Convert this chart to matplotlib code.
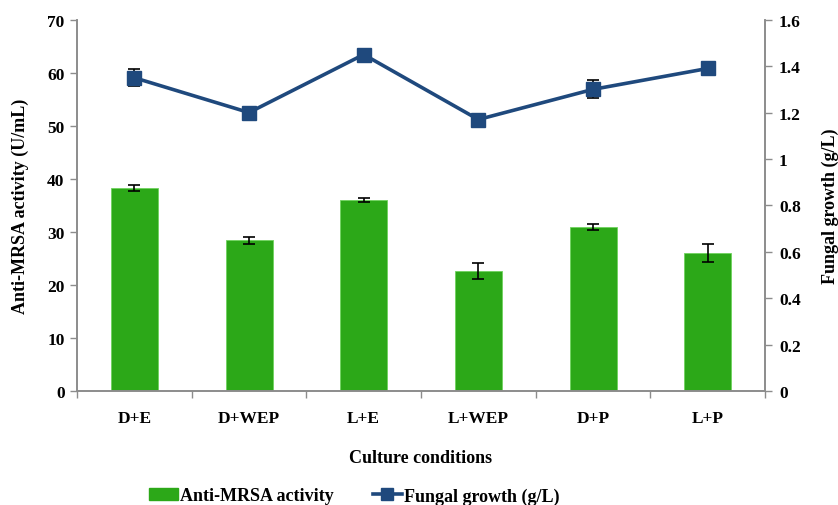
import matplotlib
matplotlib.use("Agg")
import matplotlib.pyplot as plt
import numpy as np
from matplotlib.lines import Line2D
from matplotlib.patches import Patch

# Data
conditions = ["D+E", "D+WEP", "L+E", "L+WEP", "D+P", "L+P"]
activity = [38.2, 28.4, 36.0, 22.6, 30.9, 26.0]          # U/mL
activity_err = [0.55, 0.6, 0.35, 1.5, 0.55, 1.7]
growth = [1.35, 1.20, 1.45, 1.17, 1.30, 1.39]            # g/L
growth_err = [0.037, 0.01, 0.02, 0.01, 0.039, 0.01]

bar_color = "#2CA818"
line_color = "#1F497D"
axis_color = "#8C8C8C"
font = {"family": "Liberation Serif", "weight": "bold"}

fig = plt.figure(figsize=(8.38, 5.06), dpi=100)
ax = fig.add_axes([0.0919, 0.2253, 0.8210, 0.7337])
ax2 = ax.twinx()

x = np.arange(len(conditions))
ax.bar(x, activity, width=0.41, color=bar_color, edgecolor="#6FD25E",
       linewidth=0.6, zorder=2)
ax.errorbar(x, activity, yerr=activity_err, fmt="none", ecolor="black",
            elinewidth=1.2, capsize=4, capthick=1.2, zorder=3)

ax2.errorbar(x, growth, yerr=growth_err, fmt="none", ecolor="black",
             elinewidth=1.2, capsize=4, capthick=1.2, zorder=3)
ax2.plot(x, growth, color=line_color, linewidth=2.6, marker="s",
         markersize=10.5, markerfacecolor=line_color,
         markeredgecolor=line_color, zorder=4)

ax.set_xlim(-0.5, len(conditions) - 0.5)
ax.set_ylim(0, 70)
ax2.set_ylim(0, 1.6)
ax.set_yticks(np.arange(0, 71, 10))
ax2.set_yticks(np.arange(0, 1.61, 0.2))
ax2.set_yticklabels(["0", "0.2", "0.4", "0.6", "0.8", "1", "1.2", "1.4", "1.6"])

ax.set_xticks(x)
ax.set_xticklabels(conditions)
ax.set_xticks(np.arange(-0.5, len(conditions), 1.0), minor=True)
ax.tick_params(axis="x", which="major", length=0, pad=14)
ax.tick_params(axis="x", which="minor", length=5, color=axis_color, width=1)
ax.tick_params(axis="y", length=5, color=axis_color, width=1, pad=4)
ax2.tick_params(axis="y", length=5, color=axis_color, width=1, pad=5)

for a in (ax, ax2):
    a.spines["top"].set_visible(False)
    for s in ("left", "right", "bottom"):
        a.spines[s].set_color(axis_color)
        a.spines[s].set_linewidth(1.2)
    for lbl in a.get_xticklabels() + a.get_yticklabels():
        lbl.set_fontfamily(font["family"])
        lbl.set_fontweight("bold")
        lbl.set_fontsize(12.5)

ax.set_xlabel("Culture conditions", fontsize=13, labelpad=16, **font)
ax.set_ylabel("Anti-MRSA activity (U/mL)", fontsize=13, labelpad=13, **font)
ax2.set_ylabel("Fungal growth (g/L)", fontsize=13, labelpad=15, rotation=90, **font)

handles = [
    Patch(facecolor=bar_color, edgecolor=bar_color, label="Anti-MRSA activity"),
    Line2D([0], [0], color=line_color, linewidth=2.6, marker="s",
           markersize=8, label="Fungal growth (g/L)"),
]
fig.legend(handles=handles, loc="center left", bbox_to_anchor=(0.158, 0.018),
           ncol=2, frameon=False, columnspacing=2.15, handlelength=1.6,
           handletextpad=0.15, prop={"family": "Liberation Serif",
                                     "weight": "bold", "size": 13})

fig.savefig("out.png", dpi=100)
